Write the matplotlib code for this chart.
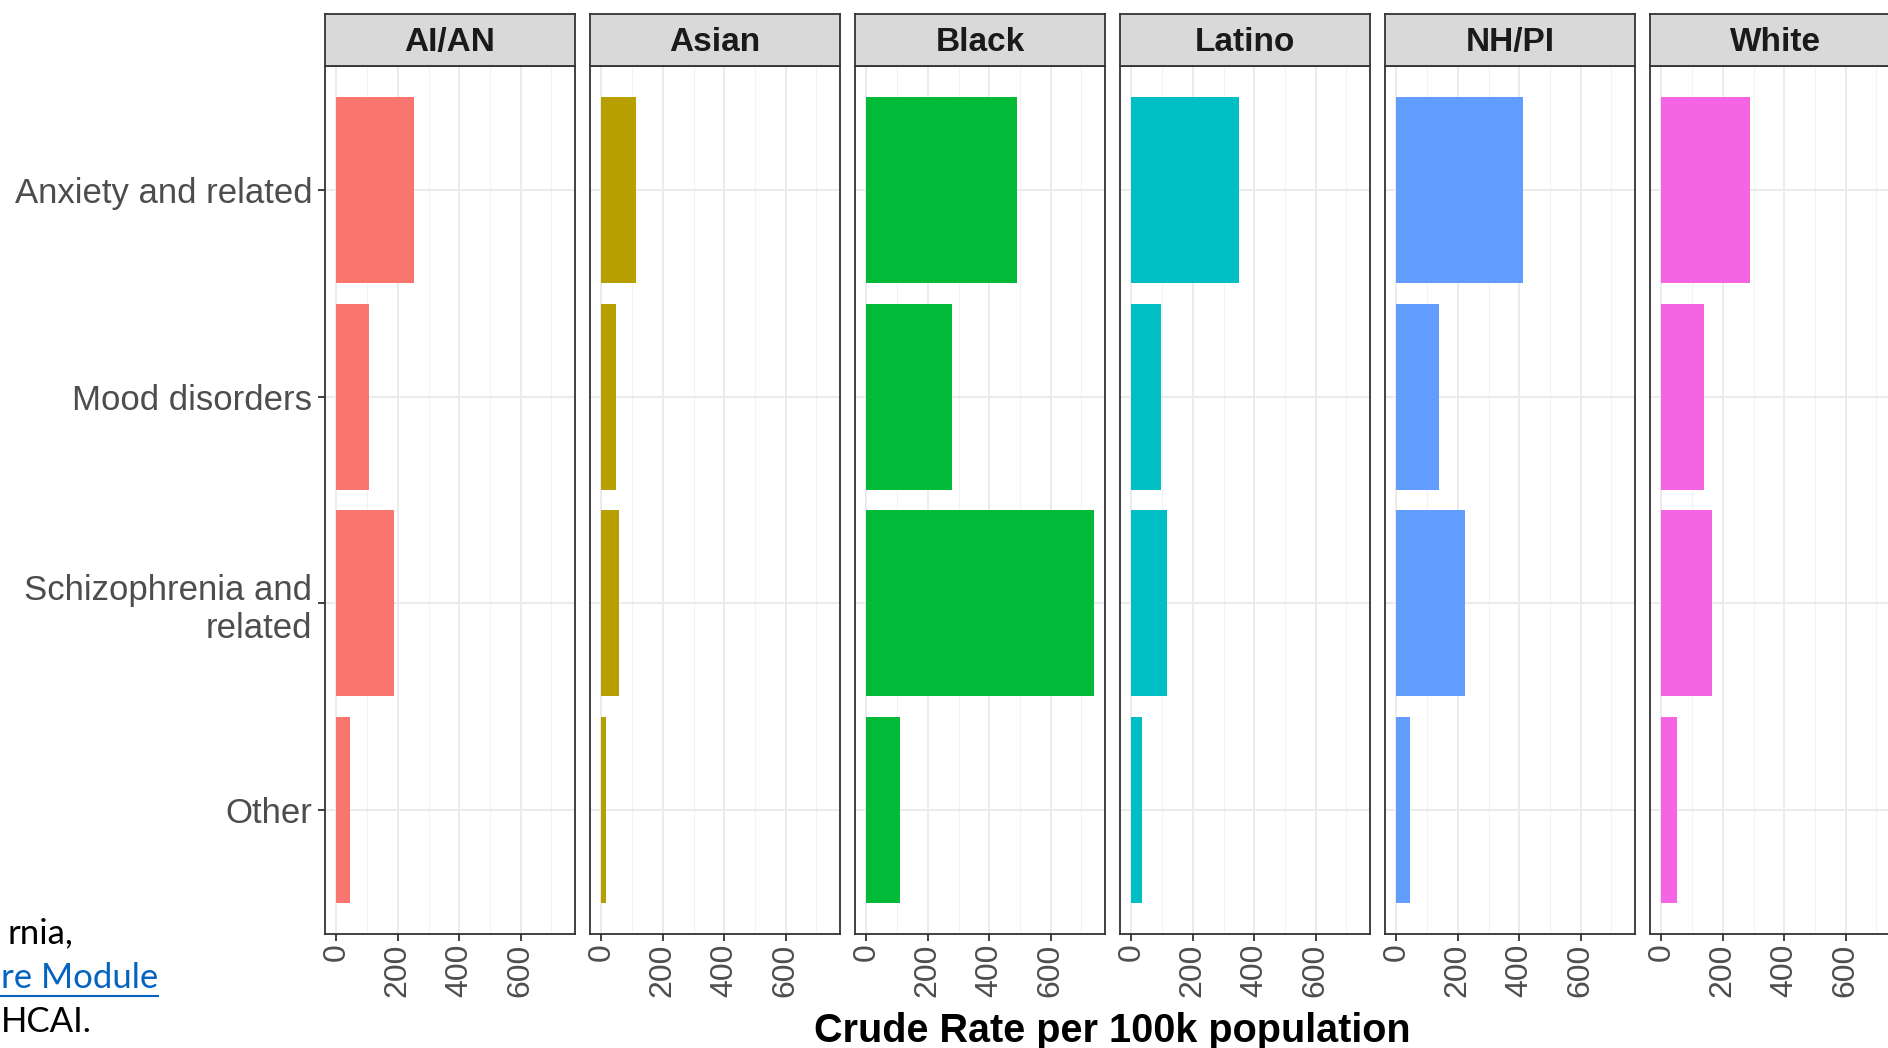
import numpy as np
import matplotlib
matplotlib.use('Agg')
import matplotlib.pyplot as plt
from matplotlib.lines import Line2D

groups = ['AI/AN', 'Asian', 'Black', 'Latino', 'NH/PI', 'White']
conditions = ['Anxiety and related', 'Mood disorders', 'Schizophrenia and\nrelated', 'Other']
colors = ['#F8766D', '#B79F00', '#00BA38', '#00BFC4', '#619CFF', '#F564E3']

# crude rate per 100k, order follows conditions
aian = [253, 105, 187, 43]
asian = [113, 47, 58, 16]
black = [491, 280, 740, 109]
latino = [351, 97, 117, 35]
nhpi = [413, 140, 222, 43]
white = [288, 140, 164, 51]
rates = [aian, asian, black, latino, nhpi, white]

xticks = [0, 200, 400, 600]

W, H = 1888, 1048
fig = plt.figure(figsize=(W / 100, H / 100), dpi=100)
fig.patch.set_facecolor('white')
plt.rcParams['font.family'] = ['Liberation Sans', 'DejaVu Sans']

def px(x0, y0, w, h):
    # pixel box (top-left origin) -> figure fraction
    return [x0 / W, 1 - (y0 + h) / H, w / W, h / H]

left0, step, pw = 325, 265, 250
ptop, pbot, stop = 66, 934, 14
ypos = np.arange(len(conditions))

for i, g in enumerate(groups):
    x0 = left0 + i * step
    ax = fig.add_axes(px(x0, ptop, pw, pbot - ptop))
    ax.barh(ypos, rates[i], height=0.9, color=colors[i], zorder=3)
    ax.set_xlim(-37, 777)
    ax.set_ylim(len(conditions) - 0.4, -0.6)
    ax.set_xticks(xticks)
    ax.set_xticks([100, 300, 500, 700], minor=True)
    ax.set_xticklabels([str(t) for t in xticks], rotation=90, fontsize=23, color='#4D4D4D')
    ax.set_yticks(ypos)
    ax.grid(True, which='major', color='#EBEBEB', lw=1.4, zorder=0)
    ax.grid(True, which='minor', axis='x', color='#F2F2F2', lw=0.8, zorder=0)
    ax.tick_params(axis='x', which='major', length=5, width=1.3, color='#333333', pad=2)
    ax.tick_params(axis='x', which='minor', length=0)
    if i == 0:
        ax.set_yticklabels(conditions, fontsize=25, color='#4D4D4D', ha='right')
        ax.tick_params(axis='y', length=5, width=1.3, color='#333333', pad=4)
    else:
        ax.tick_params(axis='y', length=0, labelleft=False)
    for s in ax.spines.values():
        s.set_color('#333333')
        s.set_linewidth(1.3)

    sax = fig.add_axes(px(x0, stop, pw, ptop - stop))
    sax.set_facecolor('#D9D9D9')
    sax.set_xticks([])
    sax.set_yticks([])
    for s in sax.spines.values():
        s.set_color('#333333')
        s.set_linewidth(1.3)
    sax.text(0.5, 0.45, g, ha='center', va='center', fontsize=24,
             fontweight='bold', color='#1A1A1A', transform=sax.transAxes)

fig.text(1112 / W, 6 / H, 'Crude Rate per 100k population', ha='center',
         va='baseline', fontsize=28.5, fontweight='bold', color='black')

# leftover slide text behind the chart
fig.text(7 / W, 1 - 943 / H, 'rnia,', ha='left', va='baseline',
         fontsize=25, family='Lato', color='black')
fig.text(1 / W, 1 - 988 / H, 're Module', ha='left', va='baseline',
         fontsize=25, family='Lato', color='#0563C1')
fig.add_artist(Line2D([0, 158 / W], [1 - 996 / H] * 2, color='#0563C1', lw=1.5))
fig.text(1 / W, 1 - 1032 / H, 'HCAI.', ha='left', va='baseline',
         fontsize=25, family='Lato', color='black')

fig.savefig('out.png', dpi=100)
